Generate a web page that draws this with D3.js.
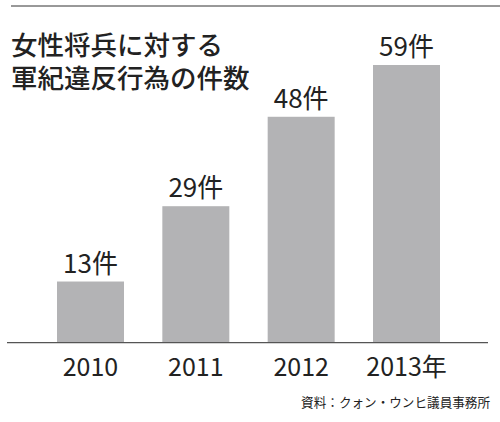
<!DOCTYPE html>
<html><head><meta charset="utf-8">
<script src="https://cdn.jsdelivr.net/npm/d3@7"></script>
<style>body{margin:0;background:#fff}svg{display:block}</style>
</head><body><svg id="c" width="500" height="422"></svg>
<script>
const categories = ["2010", "2011", "2012", "2013"];
const tickLabels = ["2010", "2011", "2012", "2013年"];
const values = [13, 29, 48, 59];
const valueLabels = ["13件", "29件", "48件", "59件"];
const titleLines = ["女性将兵に対する", "軍紀違反行為の件数"];
const source = "資料：クォン・ウンヒ議員事務所";

const svg = d3.select("#c");
const font = "'Noto Sans CJK JP', 'Noto Sans', sans-serif";
const baseY = 342.7;
const x = d3.scaleBand().domain(categories).range([57, 440]).paddingInner(0.364).paddingOuter(0);
const y = d3.scaleLinear().domain([0, 59]).range([baseY, 65]);

svg.append("line").attr("x1", 11).attr("x2", 500).attr("y1", 6).attr("y2", 6)
  .attr("stroke", "#333").attr("stroke-width", 1);

const title = svg.append("text").attr("font-family", font).attr("font-size", 26.5)
  .attr("font-weight", 500).attr("fill", "#222");
title.selectAll("tspan").data(titleLines).join("tspan")
  .attr("x", 11).attr("y", (d, i) => 55 + i * 33).text(d => d);

svg.selectAll("rect.bar").data(values).join("rect").attr("class", "bar")
  .attr("x", (d, i) => x(categories[i])).attr("width", x.bandwidth())
  .attr("y", d => y(d)).attr("height", d => baseY - y(d)).attr("fill", "#b3b3b5");

svg.selectAll("text.val").data(values).join("text").attr("class", "val")
  .attr("x", (d, i) => x(categories[i]) + x.bandwidth() / 2).attr("y", d => y(d) - 9)
  .attr("text-anchor", "middle").attr("font-family", font).attr("font-size", 26)
  .attr("fill", "#222").text((d, i) => valueLabels[i]);

svg.append("line").attr("x1", 7).attr("x2", 488).attr("y1", baseY).attr("y2", baseY)
  .attr("stroke", "#555").attr("stroke-width", 1.2);

const axis = d3.axisBottom(x).tickSize(0).tickFormat((d, i) => tickLabels[i]);
const g = svg.append("g").attr("transform", `translate(0,${baseY})`).call(axis);
g.select(".domain").remove();
g.selectAll("text").attr("font-family", font).attr("font-size", 25).attr("fill", "#222")
  .attr("dy", 0).attr("y", 33);

svg.append("text").attr("x", 490).attr("y", 407).attr("text-anchor", "end")
  .attr("font-family", font).attr("font-size", 12.6).attr("fill", "#222").text(source);
</script></body></html>
